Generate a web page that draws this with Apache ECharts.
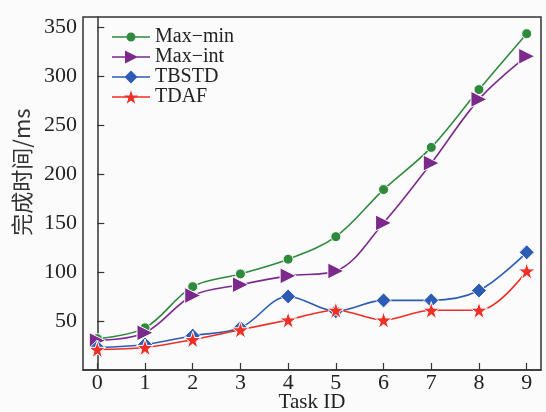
<!DOCTYPE html>
<html>
<head>
<meta charset="utf-8">
<script src="https://cdn.jsdelivr.net/npm/echarts@6/dist/echarts.min.js"></script>
<style>
  html, body { margin: 0; padding: 0; background: #fbfbfb; }
  #main { width: 546px; height: 412px; }
</style>
</head>
<body>
<div id="main"></div>
<script>
// task ids on the x axis
var taskIds = [0, 1, 2, 3, 4, 5, 6, 7, 8, 9];
var yTicks = [50, 100, 150, 200, 250, 300, 350];

// completion time (ms)
var maxMin = [32, 43, 85, 98, 113, 136, 184, 227, 286, 343];
var maxInt = [30, 38, 76, 87, 96, 101, 150, 211, 276, 320];
var tbstd  = [23, 26, 35, 43, 75, 60, 71, 71, 81, 120];
var tdaf   = [21, 23, 31, 41, 51, 61, 51, 61, 61, 101];

var starPath = 'path://M50,0 L61.8,36.2 L100,36.2 L69.1,58.8 L80.9,95.1 L50,72.4 L19.1,95.1 L30.9,58.8 L0,36.2 L38.2,36.2 Z';

// legend icons: short line with the marker in the middle
var bar = 'M0,9.7 H38 V11.3 H0 Z ';
var legCircle = 'path://' + bar + 'M23.5,10.5 A4.5,4.5 0 1 1 14.5,10.5 A4.5,4.5 0 1 1 23.5,10.5 Z';
var legTri = 'path://' + bar + 'M13,4 L26,10.5 L13,17 Z';
var legDiamond = 'path://' + bar + 'M19,4 L25.5,10.5 L19,17 L12.5,10.5 Z';
var legStar = 'path://' + bar + 'M19,3.8 L20.65,8.87 L26,8.87 L21.67,12.03 L23.33,17.1 L19,13.94 L14.67,17.1 L16.33,12.03 L12,8.87 L17.35,8.87 Z';

function pairs(arr) {
  var out = [];
  for (var i = 0; i < arr.length; i++) {
    out.push([taskIds[i], arr[i]]);
  }
  return out;
}

var serif = 'Liberation Serif';

function line(name, data, color, symbol, size, rotate) {
  return {
    name: name,
    type: 'line',
    smooth: 0.35,
    data: pairs(data),
    symbol: symbol,
    symbolSize: size,
    symbolRotate: rotate || 0,
    lineStyle: { color: color, width: 1.6 },
    itemStyle: { color: color, borderColor: '#fbfbfb', borderWidth: 1 },
    z: 2
  };
}

var myChart = echarts.init(document.getElementById('main'));

var option = {
  backgroundColor: '#fbfbfb',
  animation: false,
  grid: {
    left: 83,
    right: 5,
    top: 17,
    bottom: 42,
    outerBoundsMode: 'none',
    containLabel: false,
    show: true,
    backgroundColor: '#fbfbfb',
    borderColor: '#333',
    borderWidth: 1.5
  },
  graphic: [{
    type: 'text',
    x: 22,
    y: 172,
    rotation: Math.PI / 2,
    style: {
      text: '完成时间/ms',
      font: '22px "Noto Sans CJK SC"',
      fill: '#333',
      align: 'center',
      verticalAlign: 'middle'
    }
  }],
  legend: {
    orient: 'vertical',
    left: 107,
    top: 22,
    itemWidth: 38,
    itemHeight: 21,
    itemGap: 0,
    symbolKeepAspect: true,
    itemStyle: { borderWidth: 0 },
    symbolRotate: 0,
    textStyle: { fontFamily: serif, fontSize: 20, color: '#222' },
    data: [
      { name: 'Max\u2212min', icon: legCircle },
      { name: 'Max\u2212int', icon: legTri },
      { name: 'TBSTD', icon: legDiamond },
      { name: 'TDAF', icon: legStar }
    ]
  },
  xAxis: {
    type: 'value',
    min: -0.3,
    max: 9.3,
    name: 'Task ID',
    nameLocation: 'middle',
    nameGap: 22,
    nameMoveOverlap: false,
    nameTextStyle: { fontFamily: serif, fontSize: 21, color: '#222' },
    axisLine: { lineStyle: { color: '#333', width: 1.5 } },
    axisTick: { inside: true, length: 7, customValues: taskIds, lineStyle: { color: '#333', width: 1.2 } },
    axisLabel: { customValues: taskIds, fontFamily: serif, fontSize: 22, color: '#222', margin: 2 },
    splitLine: { show: false }
  },
  yAxis: {
    type: 'value',
    min: 0,
    max: 360,
    axisLine: { show: true, lineStyle: { color: '#333', width: 1.5 } },
    axisTick: { inside: true, length: 7, customValues: yTicks, lineStyle: { color: '#333', width: 1.2 } },
    axisLabel: { customValues: yTicks, fontFamily: serif, fontSize: 22, color: '#222', margin: 6 },
    splitLine: { show: false }
  },
  series: [
    line('Max\u2212min', maxMin, '#2f8a3e', 'circle', 10),
    line('Max\u2212int', maxInt, '#7b2a8c', 'triangle', 16, -90),
    line('TBSTD', tbstd, '#2d5cb5', 'diamond', 15),
    line('TDAF', tdaf, '#ee2f25', starPath, 17)
  ]
};

myChart.setOption(option);
window.onresize = myChart.resize;
</script>
</body>
</html>
